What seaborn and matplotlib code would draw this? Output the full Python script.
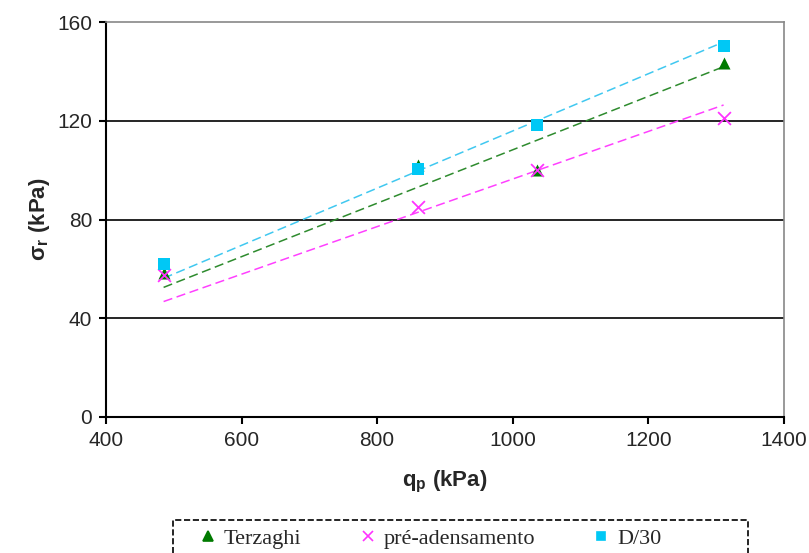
import numpy as np
import pandas as pd
import matplotlib
matplotlib.use("Agg")
import matplotlib.pyplot as plt
from matplotlib.patches import Rectangle
import seaborn as sns

# values
qp = [485, 860, 1036, 1311]
terzaghi = [58.5, 102, 100, 143.5]
pre_adensamento = [57.5, 85, 100, 121]
d30 = [62, 100.5, 118.5, 150.5]
series_names = ["Terzaghi", "pré-adensamento", "D/30"]

df = pd.DataFrame({
    "qp": qp * 3,
    "sigma": terzaghi + pre_adensamento + d30,
    "serie": [n for n in series_names for _ in qp],
})

sns.set_style("white")
plt.rcParams["font.family"] = ["Liberation Sans", "DejaVu Sans"]
plt.rcParams["mathtext.fontset"] = "custom"
plt.rcParams["mathtext.rm"] = "Liberation Sans"
plt.rcParams["mathtext.bf"] = "Liberation Sans:bold"

marker_col = {"Terzaghi": "#007a00", "pré-adensamento": "#ff33ff", "D/30": "#00c8f5"}
line_col = {"Terzaghi": "#2e8b2e", "pré-adensamento": "#ff40ff", "D/30": "#40c8f0"}
markers = {"Terzaghi": "^", "pré-adensamento": "x", "D/30": "s"}

fig = plt.figure(figsize=(8.09, 5.53), dpi=100)
ax = fig.add_axes([0.131, 0.246, 0.838, 0.714])

for name in series_names:
    sub = df[df["serie"] == name]
    # linear trend through the origin (Excel style, intercept = 0)
    b = (sub["qp"] * sub["sigma"]).sum() / (sub["qp"] ** 2).sum()
    xs = np.array([sub["qp"].min(), sub["qp"].max()])
    trend = pd.DataFrame({"qp": xs, "sigma": b * xs})
    sns.lineplot(data=trend, x="qp", y="sigma", ax=ax, color=line_col[name],
                 lw=1.1, dashes=False, zorder=2).lines[-1].set_linestyle((0, (6, 3)))
    sns.scatterplot(data=sub, x="qp", y="sigma", color=marker_col[name],
                    marker=markers[name], s=75 if name != "pré-adensamento" else 85,
                    linewidth=1.3 if name == "pré-adensamento" else 0,
                    ax=ax, zorder=3, legend=False)

ax.set_xlim(400, 1400)
ax.set_ylim(0, 160)
ax.set_xticks([400, 600, 800, 1000, 1200, 1400])
ax.set_yticks([0, 40, 80, 120, 160])
for yv in [40, 80, 120]:
    ax.axhline(yv, color="black", lw=1.2, zorder=1)

for s in ["left", "bottom"]:
    ax.spines[s].set_color("black")
    ax.spines[s].set_linewidth(1.5)
for s in ["top", "right"]:
    ax.spines[s].set_color("#888888")
    ax.spines[s].set_linewidth(1.2)

ax.tick_params(axis="both", direction="out", length=5, width=1.5, color="black",
               labelsize=15, pad=5, bottom=True, left=True)

ax.set_xlabel("q$_\\mathbf{p}$ (kPa)", fontsize=16, fontweight="bold", labelpad=14)
ax.set_ylabel("σ$_\\mathbf{r}$ (kPa)", fontsize=16, fontweight="bold", labelpad=4)

handles = [
    plt.Line2D([], [], ls="none", marker=markers[n], color=marker_col[n],
               markersize=7 if n != "D/30" else 6, markeredgewidth=1.2)
    for n in series_names
]
leg = fig.legend(handles, series_names, loc="upper left", ncol=3,
                 bbox_to_anchor=(0.246, 0.044), frameon=False,
                 prop={"family": "Liberation Serif", "size": 16},
                 handlelength=0.8, handletextpad=0.3, columnspacing=2.6,
                 borderpad=0, borderaxespad=0)

# dashed legend box, cut by the bottom edge as in the reference
fig.patches.append(Rectangle((173 / 809, -0.02), (748 - 173) / 809, 0.0797,
                             transform=fig.transFigure, fill=False,
                             ls="--", lw=1.2, edgecolor="black"))

fig.savefig("out.png", dpi=100)
